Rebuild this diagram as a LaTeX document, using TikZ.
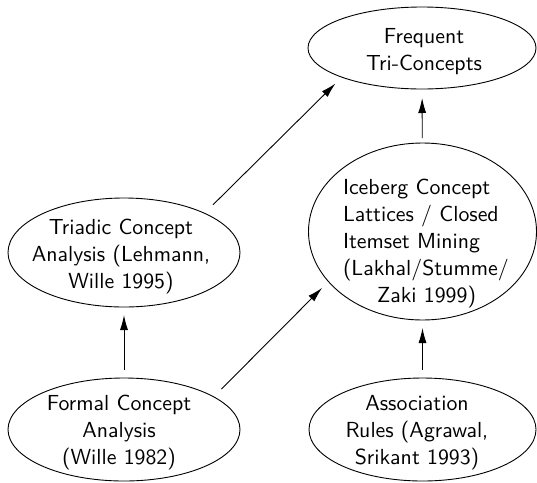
\documentclass[tikz,border=0pt]{standalone}
\usepackage{fontspec}
\usetikzlibrary{shapes.geometric,arrows.meta}
% sans face at its 10pt design size, scaled up
\newfontfamily\capfont{lmsans10-regular.otf}
\begin{document}
\begin{tikzpicture}[x=1pt,y=-1pt,
  bubble/.style={ellipse,draw,line width=0.9pt,inner sep=0pt,outer sep=0pt},
  caption/.style={font=\capfont\fontsize{21.8}{27}\selectfont,inner sep=0pt,outer sep=0pt},
  link/.style={line width=0.9pt,-{Latex[length=15pt,width=8pt]}}]
\useasboundingbox (0,0) rectangle (537,482);
% ellipse outlines
\node[bubble,minimum width=228pt,minimum height=82pt]  (freq)  at (422,48)    {};
\node[bubble,minimum width=232pt,minimum height=109pt] (triad) at (124,252.5) {};
\node[bubble,minimum width=228pt,minimum height=177pt] (ice)   at (422.5,231.5) {};
\node[bubble,minimum width=232pt,minimum height=103pt] (fca)   at (124,429.5) {};
\node[bubble,minimum width=227pt,minimum height=103pt] (assoc) at (422.5,429.5) {};
% labels
\node[caption,align=center] (freqtext)  at (424,51.3)  {Frequent\\Tri-Concepts};
\node[caption,align=center] (triadtext) at (121,256.8) {Triadic Concept\\Analysis (Lehmann,\\Wille 1995)};
\node[caption,align=left,anchor=west] (icetext) at (343,243.8)
  {Iceberg Concept\\Lattices / Closed\\Itemset Mining\\(Lakhal/Stumme/\\\hspace*{34pt}Zaki 1999)};
\node[caption,align=center] (fcatext)   at (119,432.8) {Formal Concept\\Analysis\\(Wille 1982)};
\node[caption,align=center] (assoctext) at (417,432.8) {Association\\Rules (Agrawal,\\Srikant 1993)};
% connectors
\draw[link,shorten <=8pt,shorten >=8pt] (fca) -- (triad);
\draw[link,shorten <=8pt,shorten >=8pt] (assoc) -- (ice);
\draw[link,shorten <=5pt,shorten >=9pt] (ice) -- (freq);
\draw[link,shorten <=12pt,shorten >=9pt] (triad.26) -- (freq.200);
\draw[link,shorten <=11pt,shorten >=9pt] (fca.20) -- (ice.208);
\end{tikzpicture}
\end{document}
